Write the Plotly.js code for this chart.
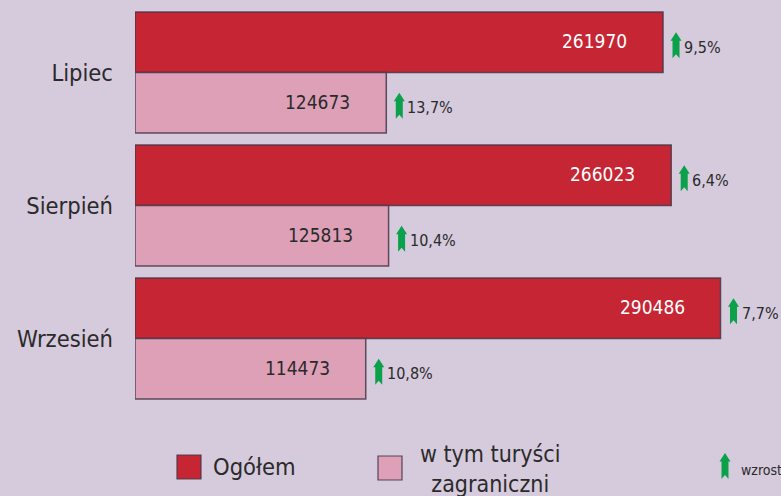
<!DOCTYPE html>
<html>
<head>
<meta charset="utf-8">
<script src="https://cdn.plot.ly/plotly-3.0.1.min.js"></script>
<style>html,body{margin:0;padding:0;background:#D6CADD;}#chart{width:781px;height:496px;}</style>
</head>
<body>
<div id="chart"></div>
<script>
// ---- data ----
const months = ['Lipiec', 'Sierpień', 'Wrzesień'];
const totalValues = [261970, 266023, 290486];
const foreignValues = [124673, 125813, 114473];
const totalGrowth = ['9,5%', '6,4%', '7,7%'];
const foreignGrowth = ['13,7%', '10,4%', '10,8%'];
const seriesNames = ['Ogółem', 'w tym turyści<br>zagraniczni'];
const legendNote = 'wzrost';

// ---- style ----
const FONT = "'Liberation Sans Narrow', 'Arial Narrow', 'DejaVu Sans Condensed', sans-serif";
const BG = '#D6CADD';
const RED = '#C62534';
const PINK = '#DEA0B6';
const GREEN = '#0BA14B';
const TXT = '#2a2a2a';
const W = 781, H = 496, L = 135, R = 0, T = 6, B = 91;
const BARGAP = 0.09;
const OFF = (1 - BARGAP) / 4;
const px = x => (x - L) / (W - L - R);
const py = y => (H - B - y) / (H - T - B);

const arrowPath = (dx, dy) => {
  const pts = [[0, 13], [5.5, 4.5], [3.5, 4.5], [3.5, -13], [0, -9], [-3.5, -13], [-3.5, 4.5], [-5.5, 4.5]];
  return 'M' + pts.map(p => (p[0] + dx) + ',' + (p[1] + dy)).join(' L') + ' Z';
};

const lineStyle = {color: 'rgba(70,55,72,0.85)', width: 1.5};

const traces = [
  {type: 'bar', orientation: 'h', name: seriesNames[0], y: months, x: totalValues,
   marker: {color: RED, line: lineStyle}, hoverinfo: 'none'},
  {type: 'bar', orientation: 'h', name: seriesNames[1], y: months, x: foreignValues,
   marker: {color: PINK, line: lineStyle}, hoverinfo: 'none'}
];

const annotations = [];
const shapes = [];
const series = [
  {vals: totalValues, growth: totalGrowth, off: -OFF, color: '#ffffff'},
  {vals: foreignValues, growth: foreignGrowth, off: OFF, color: TXT}
];
series.forEach(s => {
  s.vals.forEach((v, i) => {
    const yc = i + s.off;
    annotations.push({x: v, y: yc, xref: 'x', yref: 'y', text: String(v), showarrow: false,
      xanchor: 'right', yanchor: 'middle', xshift: -34, yshift: 1,
      font: {family: FONT, size: 19, color: s.color}});
    annotations.push({x: v, y: yc, xref: 'x', yref: 'y', text: s.growth[i], showarrow: false,
      xanchor: 'left', yanchor: 'middle', xshift: 19, yshift: -5,
      font: {family: FONT, size: 16, color: TXT}});
    shapes.push({type: 'path', xref: 'x', yref: 'y', xsizemode: 'pixel', ysizemode: 'pixel',
      xanchor: v, yanchor: yc, path: arrowPath(13, -3), fillcolor: GREEN, line: {width: 0}});
  });
});

// custom legend
shapes.push({type: 'rect', xref: 'paper', yref: 'paper', x0: px(177), x1: px(201), y0: py(479), y1: py(455),
  fillcolor: RED, line: {color: 'rgba(70,55,72,0.9)', width: 1.2}});
shapes.push({type: 'rect', xref: 'paper', yref: 'paper', x0: px(378), x1: px(402), y0: py(480), y1: py(456),
  fillcolor: PINK, line: {color: 'rgba(70,55,72,0.9)', width: 1.2}});
annotations.push({xref: 'paper', yref: 'paper', x: px(211), y: py(467), text: seriesNames[0], showarrow: false,
  xanchor: 'left', yanchor: 'middle', font: {family: FONT, size: 23.5, color: TXT}});
annotations.push({xref: 'paper', yref: 'paper', x: px(490), y: py(469), text: seriesNames[1], showarrow: false,
  xanchor: 'center', yanchor: 'middle', align: 'center', font: {family: FONT, size: 23, color: TXT}});
shapes.push({type: 'path', xref: 'paper', yref: 'paper', xsizemode: 'pixel', ysizemode: 'pixel',
  xanchor: px(725), yanchor: py(466), path: arrowPath(0, 0), fillcolor: GREEN, line: {width: 0}});
annotations.push({xref: 'paper', yref: 'paper', x: px(739), y: py(470), text: legendNote, showarrow: false,
  xanchor: 'left', yanchor: 'middle', font: {family: FONT, size: 14, color: TXT}});

const layout = {
  width: W, height: H,
  margin: {l: L, r: R, t: T, b: B, pad: 0},
  paper_bgcolor: BG, plot_bgcolor: BG,
  barmode: 'group', bargap: BARGAP, bargroupgap: 0,
  showlegend: false,
  xaxis: {range: [0, 320500], visible: false, fixedrange: true},
  yaxis: {type: 'category', autorange: 'reversed', range: [2.5, -0.5], showgrid: false, zeroline: false,
    showline: false, ticks: '', ticklabelstandoff: 21,
    tickfont: {family: FONT, size: 23.5, color: TXT}},
  annotations: annotations,
  shapes: shapes
};

Plotly.newPlot('chart', traces, layout, {displayModeBar: false, staticPlot: true});
</script>
</body>
</html>
